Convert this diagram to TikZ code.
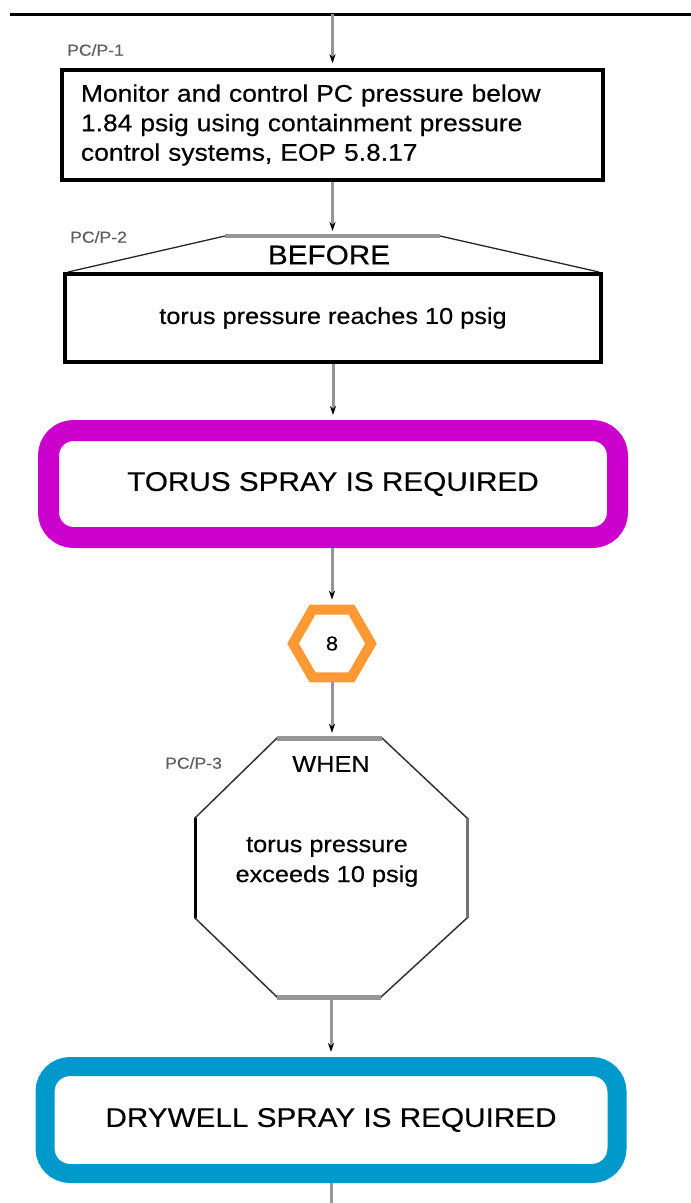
\documentclass[tikz,border=0pt]{standalone}
\usepackage{fontspec}
\setmainfont{Liberation Sans}[FakeStretch=1.1,FakeBold=0.35]
\usetikzlibrary{arrows.meta,shapes.geometric}
\definecolor{conncol}{RGB}{150,150,150}
\definecolor{magb}{RGB}{204,0,204}
\definecolor{cyanb}{RGB}{0,153,204}
\definecolor{orng}{RGB}{255,153,51}
\definecolor{lblcol}{RGB}{95,95,95}
\begin{document}
\begin{tikzpicture}[x=1pt,y=-1pt,
  connline/.style={draw=conncol,line width=3pt},
  tipline/.style={draw=conncol,line width=3pt,-{Stealth[length=9pt,width=6pt,black]},shorten >=5pt},
  steplabel/.style={anchor=west,text=lblcol,font=\fontsize{16}{18}\selectfont,inner sep=0pt},
  actbox/.style={draw,line width=3.5pt,inner sep=0pt},
  reqbox/.style={rounded corners=25pt,inner sep=0pt,font=\fontsize{27}{30}\selectfont},
  octedge/.style={draw=conncol,line width=5pt}]
\useasboundingbox (0,0) rectangle (691,1203);
\fill[white] (0,0) rectangle (691,1203);

% top rule
\coordinate (tl) at (10,14);
\coordinate (tr) at (691,14);
\coordinate (top) at (332.5,14);
\draw[line width=3pt] (tl) -- (tr);

% PC/P-1
\node[steplabel] (l1) at (67,50) {PC/P-1};
\node[actbox,minimum width=541pt,minimum height=110pt,inner xsep=19pt,text width=503pt,align=left,
  font=\fontsize{24}{29.5}\selectfont] (b1) at (332.5,125)
  {Monitor and control PC pressure below\\1.84 psig using containment pressure\\control systems, EOP 5.8.17};

% PC/P-2 BEFORE
\node[steplabel] (l2) at (70,237) {PC/P-2};
\coordinate (tzL) at (225,236);
\coordinate (tzR) at (440,236);
\coordinate (tz) at (332.5,236);
\coordinate (tzBL) at (68,272);
\coordinate (tzBR) at (599,272);
\draw[line width=1.3pt,draw=black!85] (tzL) -- (tzBL);
\draw[line width=1.3pt,draw=black!85] (tzR) -- (tzBR);
\draw[draw=conncol,line width=4.5pt] (tzL) -- (tzR);
\node[inner sep=0pt,font=\fontsize{27}{30}\selectfont] (bef) at (329,255) {BEFORE};
\node[actbox,minimum width=536pt,minimum height=88pt,font=\fontsize{23}{26}\selectfont] (b2) at (333,318)
  {torus pressure reaches 10 psig};

% torus spray
\node[reqbox,draw=magb,line width=21pt,minimum width=569pt,minimum height=107pt] (torus) at (333,484)
  {TORUS SPRAY IS REQUIRED};

% hexagon 8
\node[regular polygon,regular polygon sides=6,draw=orng,line width=10pt,minimum size=78pt,inner sep=0pt,
  font=\fontsize{20}{22}\selectfont] (hex) at (332,643.5) {8};

% PC/P-3 WHEN octagon
\node[steplabel] (l3) at (165,763) {PC/P-3};
\node[minimum width=272pt,minimum height=259pt,inner sep=0pt] (oct) at (331,867.5) {};
\draw[line width=1.5pt,draw=black!80] (277,738) -- (382,738) -- (467,818) -- (467,918) -- (381,997)
  -- (277,997) -- (195,918) -- (195,818) -- cycle;
\draw[octedge] (277,738) -- (382,738);
\draw[octedge] (277,997) -- (381,997);
\draw[draw=black!55,line width=3pt] (467,818) -- (467,918);
\draw[draw=black,line width=3pt] (195,818) -- (195,918);
\node[inner sep=0pt,font=\fontsize{23}{26}\selectfont] (when) at (331,764) {WHEN};
\node[inner sep=0pt,align=center,font=\fontsize{23}{30}\selectfont] (otxt) at (327,862)
  {torus pressure\\exceeds 10 psig};

% drywell spray
\node[reqbox,draw=cyanb,line width=19pt,minimum width=572pt,minimum height=107pt] (dry) at (331,1120)
  {DRYWELL SPRAY IS REQUIRED};
\coordinate (bot) at (331,1203);

% connectors
\draw[tipline] (top) -- (b1.north);
\draw[tipline] (b1.south) -- (tz);
\draw[tipline] (b2.south) -- (b2.south |- torus.north);
\draw[tipline] (torus.south -| hex.north) -- (hex.north);
\draw[tipline] (hex.south) -- (hex.south |- oct.north);
\draw[tipline] (oct.south) -- (oct.south |- dry.north);
\draw[connline] (dry.south) -- (bot);
\end{tikzpicture}
\end{document}
